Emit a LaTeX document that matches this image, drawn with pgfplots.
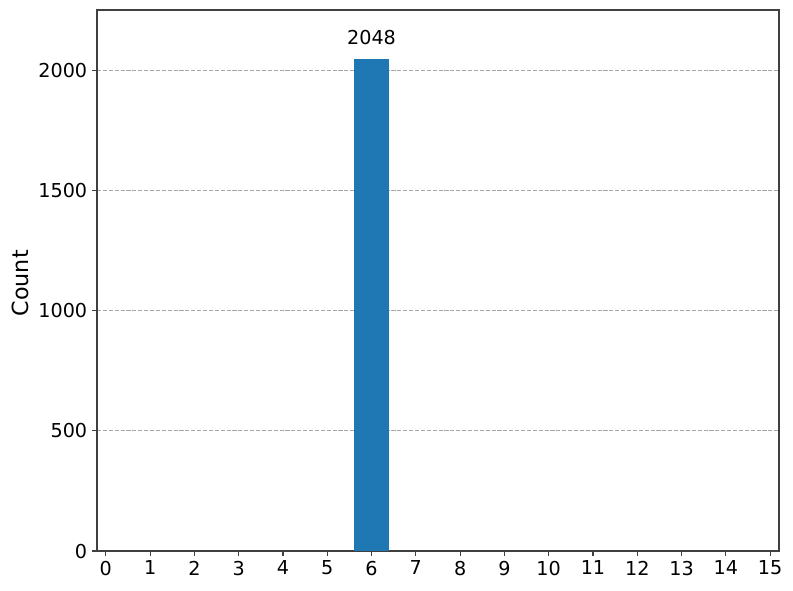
\documentclass[border=0pt]{standalone}
\usepackage{fontspec}
\setmainfont{DejaVu Sans}
\usepackage{pgfplots}
\pgfplotsset{compat=1.18}
\definecolor{mplblue}{HTML}{1F77B4}
\definecolor{gridgray}{HTML}{A6A6A6}

\begin{document}
\begin{tikzpicture}
\begin{axis}[
  scale only axis,
  width=491pt, height=389.5pt,
  xmin=-0.2, xmax=15.2,
  ymin=0, ymax=2252.8,
  xtick={0,...,15},
  ytick={0,500,1000,1500,2000},
  tick align=outside,
  major tick length=3.5pt,
  every tick/.style={black!75, line width=0.8pt},
  axis line style={black!75, line width=0.8pt},
  xtick pos=bottom, ytick pos=left,
  ymajorgrids,
  major grid style={gridgray, line width=0.8pt, dash pattern=on 2.96pt off 1.28pt},
  /pgf/number format/assume math mode=true,
  /pgf/number format/1000 sep={},
  tick label style={font=\fontsize{13.8}{16}\selectfont},
  ylabel={Count},
  ylabel style={font=\fontsize{16}{19}\selectfont, xshift=-2pt},
  ybar, bar width=0.8, bar shift=0pt,
  nodes near coords,
  nodes near coords style={font=\fontsize{13.8}{16}\selectfont, black, /pgf/number format/1000 sep={}, yshift=6.5pt},
]
\addplot[fill=mplblue, draw=none] coordinates {(6,2048)};
\end{axis}
\path ([shift={(-69.8pt,-28.1pt)}]current axis.south west) rectangle ([shift={(10.1pt,7.2pt)}]current axis.north east);
\end{tikzpicture}
\end{document}
